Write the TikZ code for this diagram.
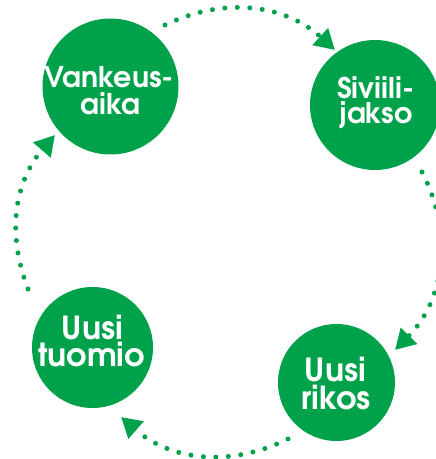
\documentclass[tikz,border=0pt]{standalone}
\usepackage{fontspec}
\newfontfamily\blobfont{texgyreadventor-bold.otf}
\usetikzlibrary{arrows.meta,calc}
\definecolor{cgreen}{RGB}{0,161,75}
\begin{document}
\begin{tikzpicture}[x=1pt,y=1pt,
  blob/.style={circle, fill=cgreen, inner sep=0pt, outer sep=0pt},
  lbl/.style={text=white, inner sep=0pt, anchor=base, font=\blobfont\fontsize{28.5}{28.5}\selectfont},
  lblbig/.style={lbl, font=\blobfont\fontsize{31.8}{31.8}\selectfont},
  cyc/.style={cgreen, line width=5pt, dash pattern=on 0pt off 12.5pt, line cap=round,
    -{Triangle[length=20pt,width=22pt]}}]
\clip (0,0) rectangle (436,459);
\node[blob, minimum size=136pt] (va) at (110.5,372.5) {};
\node[blob, minimum size=130pt] (sj) at (375,354) {};
\node[blob, minimum size=117pt] (ur) at (336.5,76.5) {};
\node[blob, minimum size=121pt] (ut) at (92.5,111.5) {};
\node[lbl] (va1) at ($(va)+(-1.5,-1)$) {Vankeus-};
\node[lbl] (va2) at ($(va)+(0,-28.5)$) {aika};
\node[lbl] (sj1) at ($(sj)+(0.5,6.7)$) {Siviili-};
\node[lbl] (sj2) at ($(sj)+(1,-18.3)$) {jakso};
\node[lblbig] (ur1) at ($(ur)+(-1,0.8)$) {Uusi};
\node[lblbig] (ur2) at ($(ur)+(-0.5,-26.8)$) {rikos};
\node[lblbig] (ut1) at ($(ut)+(0,7.5)$) {Uusi};
\node[lblbig] (ut2) at ($(ut)+(-1,-19.2)$) {tuomio};
\coordinate (ts) at ($(va)+(54.5,61.5)$);
\coordinate (te) at ($(sj)+(-40,55)$);
\coordinate (rs) at ($(sj)+(47,-67)$);
\coordinate (re) at ($(ur)+(58.5,32.5)$);
\coordinate (bs) at ($(ur)+(-48.5,-56.5)$);
\coordinate (be) at ($(ut)+(28.5,-69.5)$);
\coordinate (ls) at ($(ut)+(-64.5,58.5)$);
\coordinate (le) at ($(va)+(-55.5,-48.5)$);
\draw[cyc] (ts) to[bend left=34] (te);
\draw[cyc] (rs) to[bend left=36] (re);
\draw[cyc] (bs) to[bend left=33.6] (be);
\draw[cyc] (ls) to[bend left=31] (le);
\end{tikzpicture}
\end{document}
